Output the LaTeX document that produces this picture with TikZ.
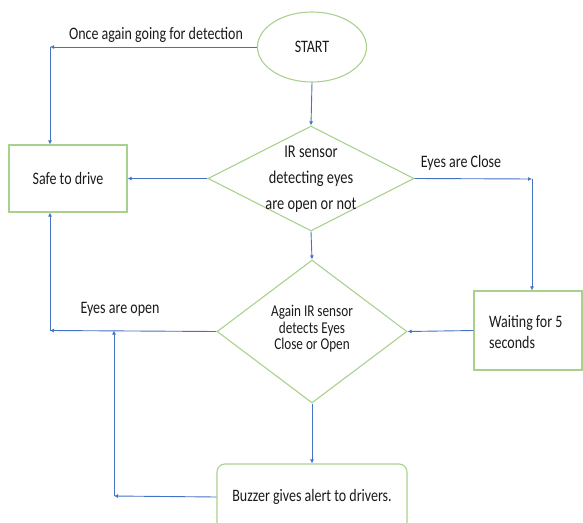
\documentclass[tikz,border=0pt]{standalone}
\usepackage{fontspec}
\setmainfont{Carlito}[FakeStretch=0.8]
\usetikzlibrary{shapes.geometric,arrows.meta}
\definecolor{lineblue}{HTML}{4472C4}
\definecolor{shapegreen}{HTML}{A9D18E}
\definecolor{txt}{HTML}{1A1A1A}
\begin{document}
\begin{tikzpicture}[x=1pt,y=-1pt,
  every node/.style={text=txt, font=\fontsize{17.5}{21}\selectfont},
  shapeline/.style={draw=shapegreen, line width=1.1pt},
  conn/.style={draw=lineblue, line width=0.9pt, -{Latex[length=4pt,width=4pt]}},
  plain/.style={draw=lineblue, line width=0.9pt},
  procbox/.style={shapeline, rectangle, inner sep=0pt},
  decision/.style={shapeline, diamond, inner sep=0pt},
  lbl/.style={inner sep=0pt}
]
\useasboundingbox (0,0) rectangle (583,522);

% shapes
\node[shapeline, ellipse, minimum width=109pt, minimum height=70pt, inner sep=0pt] (start) at (312,47) {START};
\node[procbox, minimum width=118pt, minimum height=67pt] (safe) at (68,178.5) {Safe to drive};
\node[decision, minimum width=206pt, minimum height=105pt] (d1) at (311,178.5) {};
\node[lbl, align=center, font=\fontsize{18}{26}\selectfont] (d1t) at (311,179) {IR sensor\\detecting eyes\\are open or not};
\node[decision, minimum width=190pt, minimum height=143pt] (d2) at (312,331.5) {};
\node[lbl, align=center, font=\fontsize{16.5}{16.5}\selectfont] (d2t) at (312,329) {Again IR sensor\\detects Eyes\\Close or Open};
\node[procbox, minimum width=108pt, minimum height=79pt] (wait) at (528,330.5) {};
\node[lbl, align=left, anchor=west, font=\fontsize{17.5}{21}\selectfont] (waitt) at (489,332) {Waiting for 5\\seconds};
\node[shapeline, rectangle, rounded corners=8pt, minimum width=190pt, minimum height=66pt, inner sep=0pt] (buzz) at (312,497) {Buzzer gives alert to drivers.};

% helper coordinates
\coordinate (c1) at (50,47);
\coordinate (c2) at (532,179);
\coordinate (c3) at (50,330.5);
\coordinate (c4) at (114,496);
\coordinate (c5) at (114,330.5);

% connectors
\draw[conn] (start.west) -- (c1);
\draw[conn] (c1) -- (c1 |- safe.north);
\draw[conn] (start.south) -- (d1.north);
\draw[conn] (d1.west) -- (safe.east);
\draw[conn] (d1.east) -- (c2);
\draw[conn] (c2) -- (c2 |- wait.north);
\draw[conn] (d1.south) -- (d2.north);
\draw[conn] (wait.west) -- (d2.east);
\draw[conn] (d2.west) -- (c3);
\draw[conn] (c3) -- (c3 |- safe.south);
\draw[conn] (d2.south) -- (buzz.north);
\draw[conn] (buzz.west) -- (c4);
\draw[conn] (c4) -- (c5);

% labels
\node[lbl] (l1) at (156,35) {Once again going for detection};
\node[lbl] (l2) at (461,163) {Eyes are Close};
\node[lbl] (l3) at (120,309) {Eyes are open};
\end{tikzpicture}
\end{document}
